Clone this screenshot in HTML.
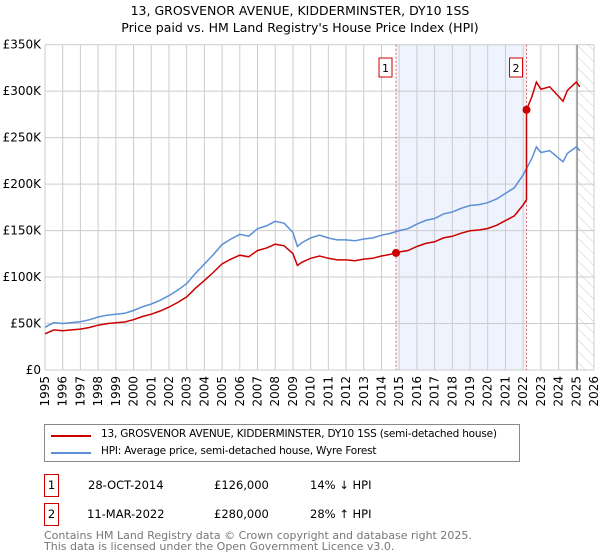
<!DOCTYPE html>
<html><head><meta charset="utf-8"><style>
body{margin:0;background:#fff;font-family:"Liberation Sans","DejaVu Sans",sans-serif;}
#wrap{position:relative;width:600px;height:560px;overflow:hidden}
svg text{font-family:"DejaVu Sans","Liberation Sans",sans-serif}
.t{position:absolute;font-size:11.5px;color:#000;font-family:"DejaVu Sans","Liberation Sans",sans-serif;white-space:nowrap}
</style></head><body><div id="wrap">
<svg id="c" width="600" height="560">
<text x="300" y="15" text-anchor="middle" font-size="12.5">13, GROSVENOR AVENUE, KIDDERMINSTER, DY10 1SS</text>
<text x="300" y="32" text-anchor="middle" font-size="12.5">Price paid vs. HM Land Registry's House Price Index (HPI)</text>
<defs><pattern id="hatch" width="8" height="8" patternUnits="userSpaceOnUse" patternTransform="rotate(-45)"><line x1="0" y1="0" x2="0" y2="8" stroke="#ccc" stroke-width="1"/></pattern></defs>
<g id="plot"></g>
</svg>
<div style="position:absolute;left:44px;top:424px;width:476px;height:38px;border:1px solid #888;box-sizing:border-box">
 <div style="position:absolute;left:6px;top:10px;width:40px;height:2px;background:#cc0000"></div>
 <div class="t" style="left:56px;top:3px;font-size:10.5px;letter-spacing:-0.2px">13, GROSVENOR AVENUE, KIDDERMINSTER, DY10 1SS (semi-detached house)</div>
 <div style="position:absolute;left:6px;top:27px;width:40px;height:2px;background:#5b8fd6"></div>
 <div class="t" style="left:56px;top:20px;font-size:10.5px;letter-spacing:-0.2px">HPI: Average price, semi-detached house, Wyre Forest</div>
</div>
<div>
 <div class="t" style="left:44px;top:474px;width:13px;height:21px;border:1px solid #cc0000;text-align:center;line-height:21px">1</div>
 <div class="t" style="left:88px;top:478px">28-OCT-2014</div>
 <div class="t" style="left:214px;top:478px">£126,000</div>
 <div class="t" style="left:310px;top:478px">14% ↓ HPI</div>
</div>
<div>
 <div class="t" style="left:44px;top:503px;width:13px;height:21px;border:1px solid #cc0000;text-align:center;line-height:21px">2</div>
 <div class="t" style="left:87px;top:507px">11-MAR-2022</div>
 <div class="t" style="left:214px;top:507px">£280,000</div>
 <div class="t" style="left:310px;top:507px">28% ↑ HPI</div>
</div>
<div class="t" style="left:44px;top:530px;color:#777;font-size:11px;line-height:11px">Contains HM Land Registry data © Crown copyright and database right 2025.<br>This data is licensed under the Open Government Licence v3.0.</div>
</div>
<script>
const hpiYears=[1995,1995.5,1996,1996.5,1997,1997.5,1998,1998.5,1999,1999.5,2000,2000.5,2001,2001.5,2002,2002.5,2003,2003.5,2004,2004.5,2005,2005.5,2006,2006.5,2007,2007.5,2008,2008.5,2009,2009.25,2009.5,2010,2010.5,2011,2011.5,2012,2012.5,2013,2013.5,2014,2014.5,2015,2015.5,2016,2016.5,2017,2017.5,2018,2018.5,2019,2019.5,2020,2020.5,2021,2021.5,2022,2022.5,2022.75,2023,2023.5,2024,2024.25,2024.5,2025,2025.2];
const hpiValues=[46,51,50,51,52,54,57,59,60,61,64,68,71,75,80,86,93,104,114,124,135,141,146,144,152,155,160,158,148,133,137,142,145,142,140,140,139,141,142,145,147,150,152,157,161,163,168,170,174,177,178,180,184,190,196,210,228,240,234,236,228,224,233,240,236];
const saleYears=[2014.82,2022.19];
const salePrices=[126,280];
const saleLabels=["1","2"];
const yTicks=[0,50,100,150,200,250,300,350];
const xTicks=[];for(let y=1995;y<=2026;y++)xTicks.push(y);
const X0=45,X1=594,Y0=370,Y1=44.7;
const xs=y=>X0+(y-1995)/(2026-1995)*(X1-X0);
const ys=v=>Y0-v/350*(Y0-Y1);
const NS="http://www.w3.org/2000/svg";
const g=document.getElementById('plot');
function mk(t,a,p){const e=document.createElementNS(NS,t);for(const k in a)e.setAttribute(k,a[k]);(p||g).appendChild(e);return e;}
function hpiAt(y){for(let i=0;i<hpiYears.length-1;i++){if(y<=hpiYears[i+1]){const f=(y-hpiYears[i])/(hpiYears[i+1]-hpiYears[i]);return hpiValues[i]+f*(hpiValues[i+1]-hpiValues[i]);}}return hpiValues[hpiValues.length-1];}
let sh=mk('rect',{x:xs(saleYears[0]),y:Y1,width:xs(saleYears[1])-xs(saleYears[0]),height:Y0-Y1,fill:'#eef3fd'});


let ht=mk('rect',{x:xs(2025.05),y:Y1,width:X1-xs(2025.05),height:Y0-Y1,fill:'url(#hatch)'});


yTicks.forEach(v=>{const l=mk('line',{x1:X0,x2:X1,y1:ys(v),y2:ys(v),stroke:'#ccc'});


const t=mk('text',{x:X0-4,y:ys(v)+4,'text-anchor':'end','font-size':12});t.textContent=v===0?'£0':'£'+v+'K';

});
xTicks.forEach(y=>{const l=mk('line',{x1:xs(y),x2:xs(y),y1:Y1,y2:Y0,stroke:'#ccc'});


const t=mk('text',{x:0,y:0,'text-anchor':'end','font-size':12,transform:`translate(${xs(y)+4},${Y0+6}) rotate(-90)`});t.textContent=y;

});
mk('line',{x1:xs(2025.05),x2:xs(2025.05),y1:Y1,y2:Y0,stroke:'#999','stroke-width':1.5});
saleYears.forEach((y,i)=>{const l=mk('line',{x1:xs(y),x2:xs(y),y1:Y1,y2:Y0,stroke:'#e06666','stroke-dasharray':'2,2'});


const b=mk('rect',{x:xs(y)-17,y:58,width:13,height:19,fill:'#fff',stroke:'#cc0000'});


const t=mk('text',{x:xs(y)-10.5,y:72,'text-anchor':'middle','font-size':11});t.textContent=saleLabels[i];});
let d='';hpiYears.forEach((y,i)=>{d+=(i?'L':'M')+xs(y).toFixed(1)+','+ys(hpiValues[i]).toFixed(1);});
const hp=mk('path',{d,fill:'none',stroke:'#5b8fd6','stroke-width':1.5});


const r1=salePrices[0]/hpiAt(saleYears[0]),r2=salePrices[1]/hpiAt(saleYears[1]);
let pd='';hpiYears.forEach((y,i)=>{
 if(y>saleYears[1]&&(i===0||hpiYears[i-1]<=saleYears[1])){pd+='L'+xs(saleYears[1]).toFixed(1)+','+ys(hpiAt(saleYears[1])*r1).toFixed(1);pd+='L'+xs(saleYears[1]).toFixed(1)+','+ys(salePrices[1]).toFixed(1);}
 const r=y<=saleYears[1]?r1:r2;pd+=(i?'L':'M')+xs(y).toFixed(1)+','+ys(hpiValues[i]*r).toFixed(1);});
const pp=mk('path',{d:pd,fill:'none',stroke:'#cc0000','stroke-width':1.5});


saleYears.forEach((y,i)=>{const c=mk('circle',{cx:xs(y),cy:ys(salePrices[i]),r:4,fill:'#cc0000'});

});
</script></body></html>
